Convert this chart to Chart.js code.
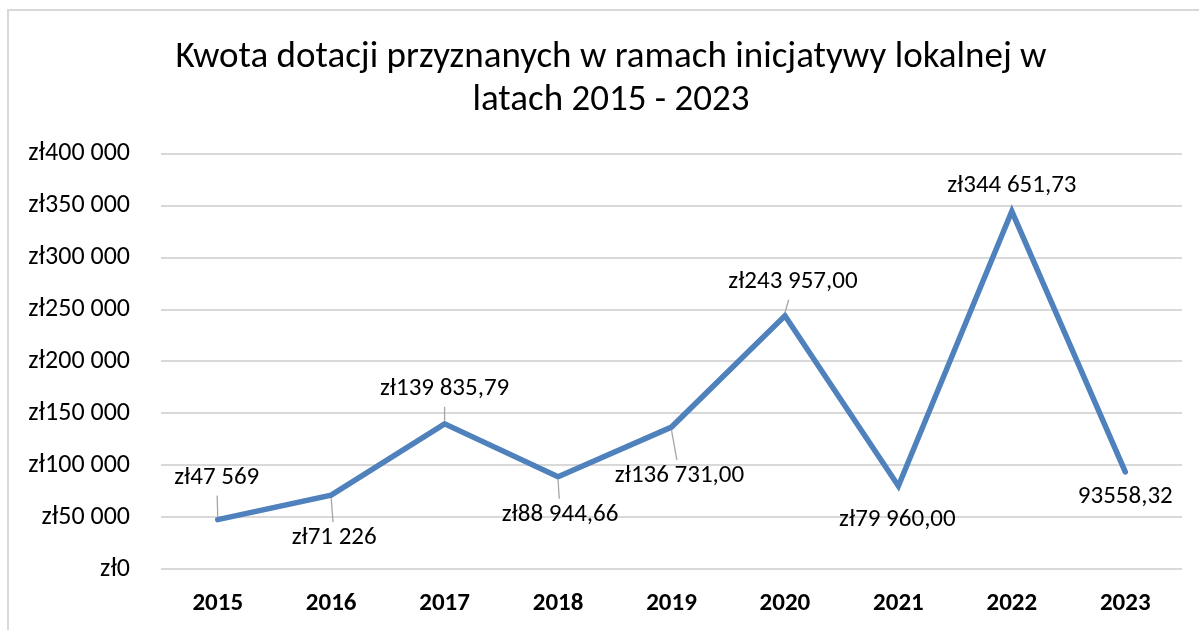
<!DOCTYPE html>
<html>
<head>
<meta charset="utf-8">
<script src="https://cdn.jsdelivr.net/npm/chart.js@4"></script>
<style>
  html, body { margin: 0; padding: 0; background: #fff; overflow: hidden; }
  body { width: 1199px; height: 630px; position: relative; }
  #frame { position: absolute; left: 7px; top: 9px; width: 1208px; height: 660px; border: 2px solid #d9d9d9; box-sizing: border-box; }
  #wrap { position: absolute; left: 9px; top: 11px; width: 1204px; height: 640px; }
</style>
</head>
<body>
<div id="frame"></div>
<div id="wrap"><canvas id="line-chart"></canvas></div>
<script>
var years = ["2015", "2016", "2017", "2018", "2019", "2020", "2021", "2022", "2023"];
var amounts = [47569, 71226, 139835.79, 88944.66, 136731, 243957, 79960, 344651.73, 93558.32];
var amountLabels = ["zł47 569", "zł71 226", "zł139 835,79", "zł88 944,66", "zł136 731,00",
  "zł243 957,00", "zł79 960,00", "zł344 651,73", "93558,32"];
var yTicks = [0, 50000, 100000, 150000, 200000, 250000, 300000, 350000, 400000];
var titleLines = ["Kwota dotacji przyznanych w ramach inicjatywy lokalnej w", "latach 2015 - 2023"];

var FONT = "Carlito, Calibri, Lato, sans-serif";
var RIGHT_PAD = 31;

// label placement relative to each point: [dx, dy, leader?]
var labelPos = [
  [-1, -42, true], [3, 43, true], [0, -35, true], [2, 38, true], [8, 49, true],
  [8, -34, true], [-1, 34, false], [0, -26, false], [0, 25, false]
];

function money(v) {
  return "zł" + String(v).replace(/\B(?=(\d{3})+(?!\d))/g, " ");
}

// title is centred on the whole chart box, not on the padded area
var titleSpan = {
  id: "titleSpan",
  afterLayout: function (chart) {
    var t = chart.titleBlock;
    if (t) { t.right += RIGHT_PAD; t.width += RIGHT_PAD; }
  }
};

var pointLabels = {
  id: "pointLabels",
  afterDatasetsDraw: function (chart) {
    var ctx = chart.ctx;
    var meta = chart.getDatasetMeta(0);
    ctx.save();
    ctx.font = "25px " + FONT;
    ctx.textAlign = "center";
    ctx.textBaseline = "middle";
    meta.data.forEach(function (pt, i) {
      var p = labelPos[i];
      var lx = pt.x + p[0], ly = pt.y + p[1];
      if (p[2]) {
        var half = 16;
        var ey = p[1] < 0 ? ly + half + 2 : ly - half;
        ctx.strokeStyle = "#a6a6a6";
        ctx.lineWidth = 1.3;
        ctx.beginPath();
        ctx.moveTo(pt.x, pt.y + (p[1] < 0 ? -3 : 3));
        ctx.lineTo(pt.x + p[0] * (ey - pt.y) / p[1], ey);
        ctx.stroke();
      }
      ctx.fillStyle = "#000";
      ctx.fillText(amountLabels[i], lx, ly);
    });
    ctx.restore();
  }
};

var config = {
  type: "line",
  data: {
    labels: years,
    datasets: [{
      label: "Kwota",
      data: amounts,
      borderColor: "#4f81bd",
      backgroundColor: "#4f81bd",
      borderWidth: 5.5,
      pointRadius: 0,
      tension: 0,
      fill: false,
      borderCapStyle: "round"
    }]
  },
  options: {
    responsive: true,
    maintainAspectRatio: false,
    animation: false,
    layout: { padding: { left: 0, right: RIGHT_PAD, top: 0, bottom: 0 } },
    plugins: {
      legend: { display: false },
      tooltip: { enabled: false },
      title: {
        display: true,
        text: titleLines,
        color: "#000",
        font: { family: FONT, size: 37, weight: "normal", lineHeight: 1.16 },
        padding: { top: 25, bottom: 32 }
      }
    },
    scales: {
      x: {
        offset: true,
        grid: { display: false, drawTicks: false },
        border: { display: false },
        ticks: { color: "#000", padding: 20, font: { family: FONT, size: 25, weight: "bold" } },
        afterFit: function (s) { s.height = 82; }
      },
      y: {
        min: 0,
        max: 400000,
        afterBuildTicks: function (s) { s.ticks = yTicks.map(function (v) { return { value: v }; }); },
        grid: { color: "#d9d9d9", lineWidth: 2, drawTicks: false },
        border: { display: false },
        ticks: {
          color: "#000",
          padding: 31,
          font: { family: FONT, size: 26 },
          callback: function (v) { return money(v); }
        },
        afterFit: function (s) { s.width = 152; }
      }
    }
  },
  plugins: [titleSpan, pointLabels]
};

var ctx = document.getElementById("line-chart").getContext("2d");
window.myLine = new Chart(ctx, config);
</script>
</body>
</html>
